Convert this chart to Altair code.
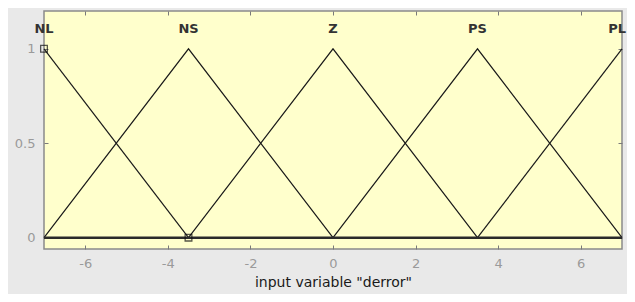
import altair as alt
import pandas as pd

# membership functions (breakpoints)
mf_names = ["NL", "NS", "Z", "PS", "PL"]
mf_x = [[-7, -3.5], [-7, -3.5, 0], [-3.5, 0, 3.5], [0, 3.5, 7], [3.5, 7]]
mf_y = [[1, 0], [0, 1, 0], [0, 1, 0], [0, 1, 0], [0, 1]]
peaks = [-7, -3.5, 0, 3.5, 7]
x_ticks = [-6, -4, -2, 0, 2, 4, 6]
y_ticks = [0, 0.5, 1]
marker_x = [-7, -3.5]
marker_y = [1, 0]
x_title = 'input variable "derror"'

rows = []
for n, xs_, ys_ in zip(mf_names, mf_x, mf_y):
    for i, (a, b) in enumerate(zip(xs_, ys_)):
        rows.append({"mf": n, "x": a, "y": b, "o": i})
lines_df = pd.DataFrame(rows)
label_df = pd.DataFrame({"x": peaks, "y": [1.105] * 5, "t": mf_names})
base_df = pd.DataFrame({"x": [-7], "x2": [7], "y": [0]})
mark_df = pd.DataFrame({"x": marker_x, "y": marker_y})

FONT = "DejaVu Sans"
TICKC = "#7a7a7a"
LABC = "#9a9a9a"
xs = alt.Scale(domain=[-7, 7], nice=False, zero=False)
ys = alt.Scale(domain=[-0.06, 1.2], nice=False, zero=False)


def tick_axis(orient):
    return alt.Axis(orient=orient, values=(x_ticks if orient in ("top", "bottom") else y_ticks),
                    offset=-4, tickSize=4, labels=False, domain=False, grid=False,
                    title=None, tickColor=TICKC)


lines = alt.Chart(lines_df).mark_line(color="#1a1a1a", strokeWidth=1.2).encode(
    x=alt.X("x:Q", scale=xs, axis=alt.Axis(
        orient="bottom", values=x_ticks, tickSize=0, domain=False, grid=False,
        labelExpr="'' + datum.value",
        labelPadding=8, labelColor=LABC, labelFontSize=13, labelFont=FONT,
        title=x_title, titleFont=FONT, titleFontSize=14, titleFontWeight="normal",
        titleColor="#1a1a1a", titlePadding=5)),
    y=alt.Y("y:Q", scale=ys, axis=alt.Axis(
        values=y_ticks, tickSize=0, domain=False, grid=False, labelPadding=9,
        labelExpr="'' + datum.value", labelColor=LABC, labelFontSize=13,
        labelFont=FONT, title=None)),
    detail="mf:N",
    order="o:Q",
)

base = alt.Chart(base_df).mark_rule(color="#2a2a2a", strokeWidth=2.5).encode(
    x=alt.X("x:Q", scale=xs, axis=None), x2="x2:Q",
    y=alt.Y("y:Q", scale=ys, axis=None),
)

squares = alt.Chart(mark_df).mark_point(shape="square", size=45, filled=False,
                                         color="#111111", strokeWidth=1.3).encode(
    x=alt.X("x:Q", scale=xs, axis=tick_axis("bottom")),
    y=alt.Y("y:Q", scale=ys, axis=tick_axis("left")),
)

labels = alt.Chart(label_df).transform_filter("datum.t != 'PL'").mark_text(
    font=FONT, fontSize=13, fontWeight="bold", color="#333333").encode(
    x=alt.X("x:Q", scale=xs, axis=tick_axis("top")),
    y=alt.Y("y:Q", scale=ys, axis=tick_axis("right")),
    text="t:N",
)

label_pl = alt.Chart(label_df).transform_filter("datum.t == 'PL'").mark_text(
    font=FONT, fontSize=13, fontWeight="bold", color="#333333", align="right", dx=4).encode(
    x=alt.X("x:Q", scale=xs, axis=None),
    y=alt.Y("y:Q", scale=ys, axis=None),
    text="t:N",
)

chart = alt.layer(lines, base, squares, labels, label_pl).resolve_axis(
    x="independent", y="independent").properties(
    width=578, height=238,
    background="#e9e9e9",
    autosize=alt.AutoSizeParams(type="none"),
    padding={"left": 36, "top": 3, "right": 5, "bottom": 45},
).configure_view(fill="#ffffcc", stroke="#8a8a8a", strokeWidth=1.5)

chart.save("out.html", embed_options={"renderer": "svg", "actions": False})
